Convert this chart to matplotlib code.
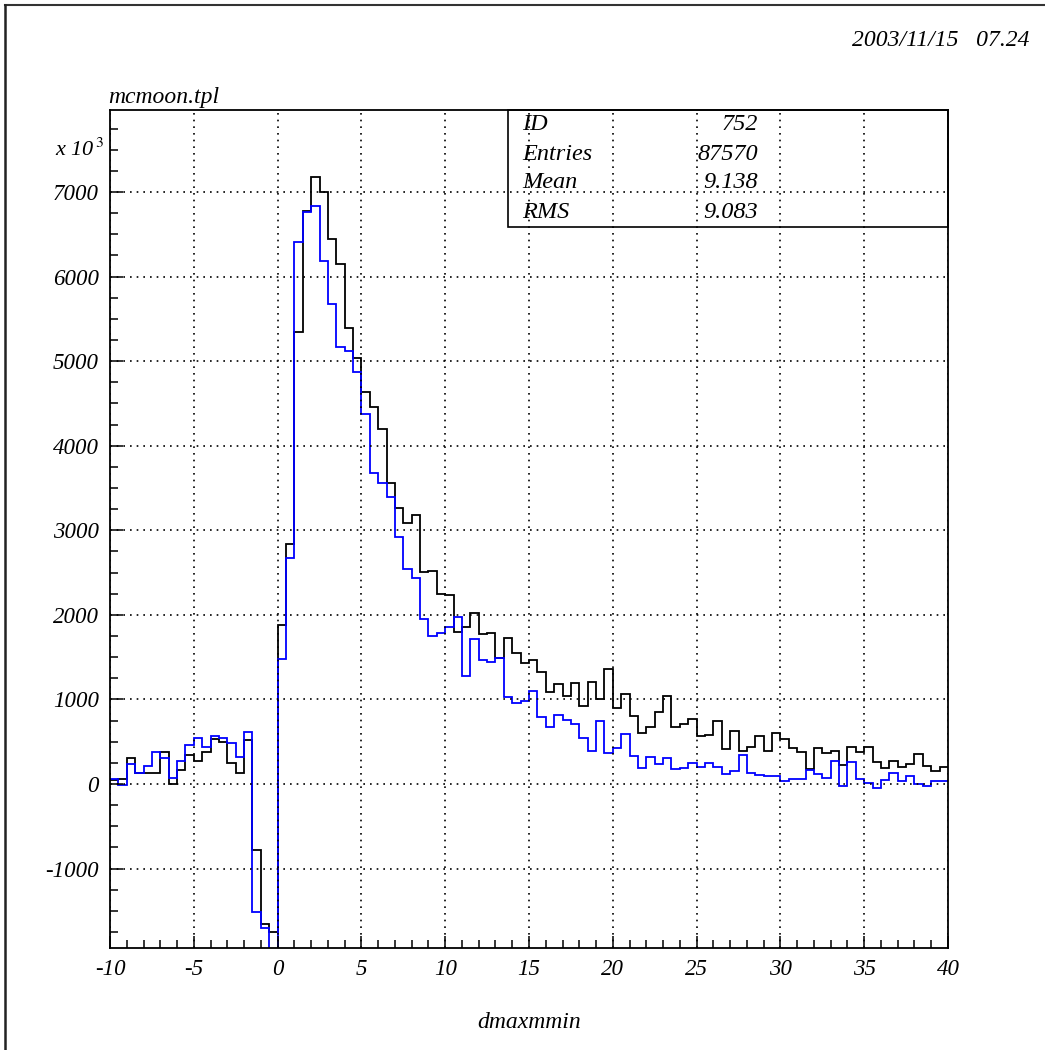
import numpy as np
import matplotlib
matplotlib.use("Agg")
import matplotlib.pyplot as plt
from matplotlib.ticker import MultipleLocator, FixedLocator
from matplotlib.lines import Line2D

# 100 bins of width 0.5 over [-10, 40]
edges = np.linspace(-10, 40, 101)

black_counts = [
    50, 59, 303, 134, 134, 126, 382, 0, 166, 343,
    272, 382, 528, 493, 252, 134, 520, -780, -1652, -1746,
    1880, 2838, 5347, 6779, 7181, 7003, 6444, 6145, 5388, 5033,
    4631, 4454, 4194, 3563, 3269, 3087, 3186, 2510, 2522, 2243,
    2235, 1801, 1860, 2026, 1769, 1781, 1485, 1722, 1545, 1427,
    1466, 1328, 1092, 1178, 1044, 1190, 926, 1210, 1005, 1360,
    903, 1064, 808, 599, 670, 848, 1041, 678, 709, 765,
    568, 579, 749, 410, 631, 386, 433, 571, 386, 599,
    532, 430, 374, 181, 430, 363, 394, 225, 441, 382,
    441, 256, 185, 272, 197, 233, 355, 217, 158, 197,
]

blue_counts = [
    60, -10, 232, 134, 217, 374, 311, 75, 272, 461,
    548, 441, 571, 540, 489, 323, 619, -1518, -1699, -2100,
    1474, 2676, 6411, 6759, 6838, 6183, 5672, 5163, 5124, 4872,
    4371, 3681, 3555, 3398, 2924, 2538, 2431, 1946, 1753, 1781,
    1860, 1978, 1277, 1711, 1466, 1439, 1485, 1032, 954, 985,
    1100, 788, 678, 816, 757, 706, 540, 390, 745, 370,
    429, 591, 331, 193, 315, 233, 304, 177, 193, 252,
    197, 244, 205, 118, 158, 347, 126, 106, 98, 95,
    39, 55, 55, 166, 114, 75, 272, -24, 260, 55,
    8, -51, 47, 134, 35, 95, 0, -20, 39, 35,
]

stat_names = ["ID", "Entries", "Mean", "RMS"]
stat_values = ["752", "87570", "9.138", "9.083"]

W, H = 1045, 1050
fig = plt.figure(figsize=(W / 100, H / 100), dpi=100)
font = dict(family="Liberation Serif", style="italic")

# frame around the page
fig.add_artist(Line2D([5 / W, 1], [1 - 5 / H, 1 - 5 / H], color="#333333", lw=1.5))
fig.add_artist(Line2D([5 / W, 5 / W], [0, 1 - 5 / H], color="#222222", lw=1.8))

ax = fig.add_axes([110 / W, (H - 948) / H, (948 - 110) / W, (948 - 110) / H])
ax.stairs(black_counts, edges, baseline=None, color="black", lw=1.3)
ax.stairs(blue_counts, edges, baseline=None, color="blue", lw=1.3)

ax.set_xlim(-10, 40)
ax.set_ylim(-1940, 7970)

ax.xaxis.set_major_locator(MultipleLocator(5))
ax.xaxis.set_minor_locator(MultipleLocator(1))
ax.yaxis.set_major_locator(MultipleLocator(1000))
ax.yaxis.set_minor_locator(MultipleLocator(250))
ax.tick_params(which="both", direction="in", top=False, right=False, width=1.1)
ax.tick_params(which="major", length=9, labelsize=16, pad=8)
ax.tick_params(which="minor", length=6)
ax.set_xticks(np.arange(-10, 41, 5))
ax.set_xticklabels([str(v) for v in range(-10, 41, 5)], **font, fontsize=16.5)
yt = np.arange(-1000, 7001, 1000)
ax.yaxis.set_major_locator(FixedLocator(yt))
ax.set_yticklabels([str(v) for v in yt], **font, fontsize=16.5)

ax.grid(True, which="major", color="black", linestyle=(0, (1, 3)), lw=1.2)
for s in ax.spines.values():
    s.set_linewidth(1.3)

ax.set_xlabel("dmaxmmin", **font, fontsize=17, labelpad=23)

fig.text(108 / W, 1 - 97 / H, "mcmoon.tpl", **font, fontsize=17, va="center", ha="left")
fig.text(104 / W, 1 - 150 / H, r"x 10$^{\,3}$", **font, fontsize=16, va="center", ha="right",
         math_fontfamily="stix")
fig.text(1030 / W, 1 - 40 / H, "2003/11/15   07.24", **font, fontsize=17, va="center", ha="right")

# statistics box
box_l, box_r, box_t, box_b = 508, 948, 110, 227
fig.add_artist(plt.Rectangle((box_l / W, 1 - box_b / H), (box_r - box_l) / W,
                             (box_b - box_t) / H, fill=False, ec="black", lw=1.2))
for i, (name, val) in enumerate(zip(stat_names, stat_values)):
    y = 1 - (125 + 29 * i) / H
    fig.text(522 / W, y, name, **font, fontsize=17.5, va="center", ha="left")
    fig.text(758 / W, y, val, **font, fontsize=17.5, va="center", ha="right")

fig.savefig("out.png", dpi=100)
